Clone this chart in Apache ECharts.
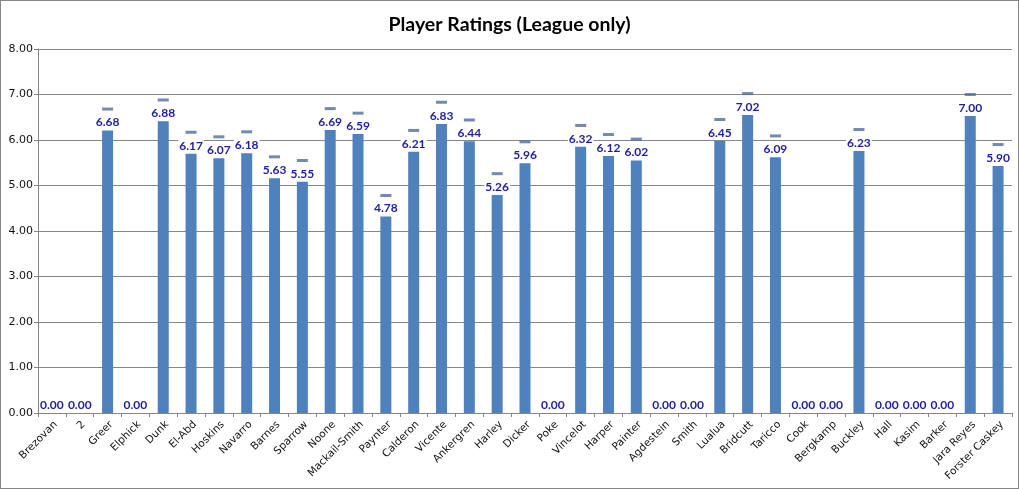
<!DOCTYPE html>
<html>
<head>
<meta charset="utf-8">
<script src="https://cdn.jsdelivr.net/npm/echarts@6/dist/echarts.min.js"></script>
<style>
html,body{margin:0;padding:0;background:#fff;}
#c{width:1019px;height:489px;box-sizing:border-box;border:1px solid #868686;}
</style>
</head>
<body>
<div id="c"></div>
<script>
const players = ["Brezovan","2","Greer","Elphick","Dunk","El-Abd","Hoskins","Navarro","Barnes","Sparrow","Noone","Mackail-Smith","Paynter","Calderon","Vicente","Ankergren","Harley","Dicker","Poke","Vincelot","Harper","Painter","Agdestein","Smith","Lualua","Bridcutt","Taricco","Cook","Bergkamp","Buckley","Hall","Kasim","Barker","Jara Reyes","Forster Caskey"];
// rating shown by the label and the dash marker
const ratings = [0,0,6.68,0,6.88,6.17,6.07,6.18,5.63,5.55,6.69,6.59,4.78,6.21,6.83,6.44,5.26,5.96,0,6.32,6.12,6.02,0,0,6.45,7.02,6.09,0,0,6.23,0,0,0,7.00,5.90];
// bar heights
const barHeights = [0,0,6.21,0,6.41,5.70,5.60,5.71,5.16,5.08,6.22,6.13,4.32,5.74,6.35,5.97,4.79,5.49,0,5.85,5.65,5.55,0,0,5.98,6.55,5.62,0,0,5.76,0,0,0,6.53,5.43];
const yTicks = {min:0, max:8, interval:1};

const chart = echarts.init(document.getElementById('c'));
chart.setOption({
  animation:false,
  backgroundColor:'#fff',
  title:{
    text:'Player Ratings (League only)',
    left:'center', top:9,
    textStyle:{fontFamily:'Lato',fontWeight:'bold',fontSize:19.5,color:'#000'}
  },
  grid:{left:37,right:6,top:48,bottom:75},
  xAxis:{
    type:'category',
    data:players,
    axisLine:{lineStyle:{color:'#868686'}},
    axisTick:{show:true,length:4,lineStyle:{color:'#868686'},alignWithLabel:false},
    axisLabel:{interval:0,rotate:45,margin:6,verticalAlign:'top',fontFamily:'DejaVu Sans',fontSize:10.5,color:'#111'}
  },
  yAxis:{
    type:'value',
    min:yTicks.min,max:yTicks.max,interval:yTicks.interval,
    axisLine:{show:true,lineStyle:{color:'#868686'}},
    axisTick:{show:true,length:4,lineStyle:{color:'#868686'}},
    splitLine:{lineStyle:{color:'#868686',width:1}},
    axisLabel:{formatter:v=>v.toFixed(2),fontFamily:'DejaVu Sans',fontSize:11,color:'#111',margin:5}
  },
  series:[
    {
      type:'bar',
      data:barHeights,
      barWidth:11,
      itemStyle:{color:'#4F81BD'},
      label:{
        show:true,position:'top',distance:2,
        formatter:p=>ratings[p.dataIndex].toFixed(2),
        fontFamily:'Lato',fontWeight:'bold',fontSize:12,color:'#1F1F9C',
        backgroundColor:'#fff',padding:[0,1]
      },
      z:3
    },
    {
      type:'scatter',
      data:ratings.map(v=>v===0?'-':v),
      symbol:'rect',
      symbolSize:[11,3],
      itemStyle:{color:'#4C6D9E'},
      z:4
    }
  ]
});
</script>
</body>
</html>
